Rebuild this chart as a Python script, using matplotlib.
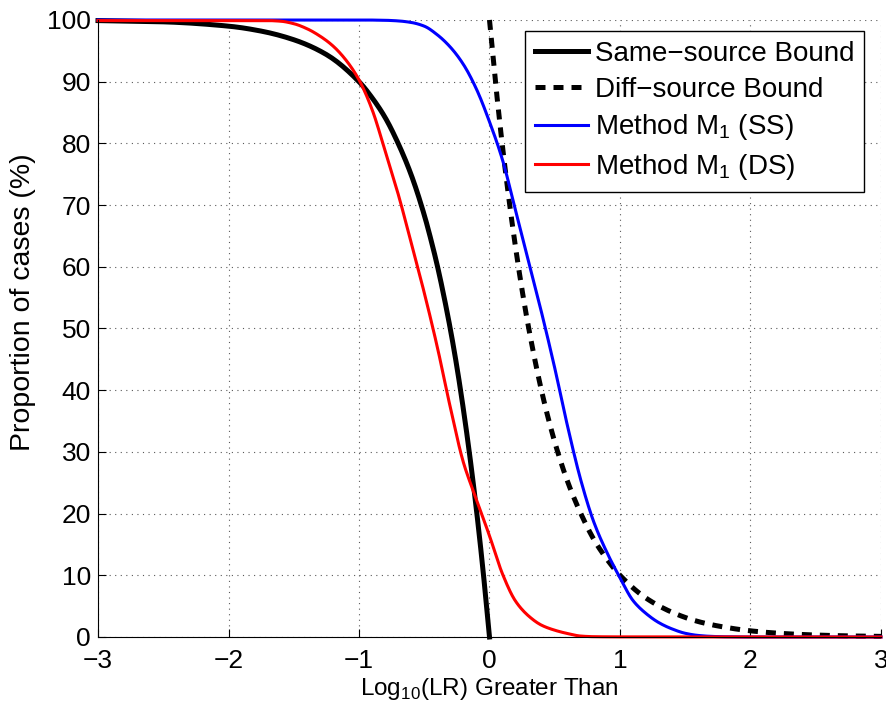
import matplotlib
matplotlib.use("Agg")
import matplotlib.pyplot as plt
import numpy as np

# values
ss_bound_x = [-3, -2.5, -2, -1.75, -1.5, -1.25, -1, -0.9, -0.8, -0.7, -0.6, -0.5,
              -0.45, -0.4, -0.35, -0.3, -0.25, -0.2, -0.15, -0.1, -0.05, 0]
ss_bound_y = [99.9, 99.7, 99.0, 98.2, 96.8, 94.4, 90.0, 87.4, 84.2, 80.0, 74.9, 68.4,
              64.5, 60.2, 55.3, 49.9, 43.8, 36.9, 29.2, 20.6, 10.9, 0]

ds_bound_x = [0, 0.05, 0.1, 0.15, 0.2, 0.25, 0.3, 0.4, 0.5, 0.6, 0.7, 0.8, 0.9, 1.0,
              1.2, 1.4, 1.6, 1.8, 2.0, 2.25, 2.5, 2.75, 3.0]
ds_bound_y = [100, 89.1, 79.4, 70.8, 63.1, 56.2, 50.1, 39.8, 31.6, 25.1, 20.0, 15.8,
              12.6, 10.0, 6.3, 4.0, 2.5, 1.6, 1.0, 0.56, 0.32, 0.18, 0.1]

m1_ss_x = [-3, -1.0, -0.8, -0.7, -0.6, -0.5, -0.4, -0.3, -0.2, -0.1, 0.0, 0.1, 0.2,
           0.3, 0.4, 0.5, 0.6, 0.7, 0.8, 0.9, 1.0, 1.1, 1.2, 1.3, 1.4, 1.5, 1.6,
           1.7, 1.8, 2.0, 3.0]
m1_ss_y = [100, 100, 99.95, 99.85, 99.6, 99.0, 97.6, 95.6, 92.8, 88.8, 83.5, 77.3,
           69.1, 60.8, 52.5, 43.6, 34.0, 25.4, 18.6, 13.7, 9.6, 5.9, 3.8, 2.3, 1.3,
           0.6, 0.25, 0.1, 0.04, 0, 0]

m1_ds_x = [-3, -2, -1.7, -1.6, -1.5, -1.4, -1.3, -1.2, -1.1, -1.0, -0.9, -0.8, -0.7,
           -0.6, -0.5, -0.4, -0.3, -0.2, -0.1, 0.0, 0.1, 0.2, 0.3, 0.4, 0.5, 0.6,
           0.7, 0.8, 1.0, 3.0]
m1_ds_y = [99.9, 99.9, 99.9, 99.8, 99.4, 98.6, 97.4, 95.8, 93.5, 90.3, 85.5, 78.8,
           71.8, 63.9, 55.8, 47.0, 37.2, 28.3, 22.3, 16.4, 10.2, 5.8, 3.4, 1.9, 1.1,
           0.55, 0.15, 0.05, 0.02, 0]

labels = ["Same\u2212source Bound", "Diff\u2212source Bound",
          r"Method M$_{\mathregular{1}}$ (SS)", r"Method M$_{\mathregular{1}}$ (DS)"]


def smooth(x, y, n=12):
    # monotone cubic (pchip) drawing between the read points
    x = np.asarray(x, float)
    y = np.asarray(y, float)
    h = np.diff(x)
    d = np.diff(y) / h
    m = np.zeros_like(y)
    for k in range(1, len(x) - 1):
        if d[k - 1] * d[k] > 0:
            w1 = 2 * h[k] + h[k - 1]
            w2 = h[k] + 2 * h[k - 1]
            m[k] = (w1 + w2) / (w1 / d[k - 1] + w2 / d[k])
    m[0] = d[0]
    m[-1] = d[-1]
    xs, ys = [], []
    for k in range(len(x) - 1):
        t = np.linspace(0, 1, n, endpoint=False)
        h00 = 2 * t**3 - 3 * t**2 + 1
        h10 = t**3 - 2 * t**2 + t
        h01 = -2 * t**3 + 3 * t**2
        h11 = t**3 - t**2
        xs.append(x[k] + t * h[k])
        ys.append(h00 * y[k] + h10 * h[k] * m[k] + h01 * y[k + 1] + h11 * h[k] * m[k + 1])
    xs.append([x[-1]])
    ys.append([y[-1]])
    return np.concatenate(xs), np.concatenate(ys)


plt.rcParams['font.family'] = ['Liberation Sans', 'DejaVu Sans']
plt.rcParams['mathtext.fontset'] = 'custom'
plt.rcParams['mathtext.rm'] = 'Liberation Sans'

fig = plt.figure(figsize=(8.87, 7.01), dpi=100)
ax = fig.add_axes([0.1105, 0.0913, 0.8827, 0.8802])

ax.plot(*smooth(ss_bound_x, ss_bound_y), color='k', lw=3.6, label=labels[0], clip_on=False)
ax.plot(*smooth(ds_bound_x, ds_bound_y), color='k', lw=3.6, ls='--', dashes=(2.0, 1.6),
        label=labels[1], clip_on=False)
ax.plot(*smooth(m1_ss_x, m1_ss_y), color='#0000ff', lw=2.2, label=labels[2], clip_on=False)
ax.plot(*smooth(m1_ds_x, m1_ds_y), color='#ff0000', lw=2.2, label=labels[3], clip_on=False)

ax.set_xlim(-3, 3)
ax.set_ylim(0, 100)
ax.set_xticks(range(-3, 4))
ax.set_yticks(range(0, 101, 10))
ax.set_xticklabels(["\u2212" + str(-v) if v < 0 else str(v) for v in range(-3, 4)])

ax.spines['top'].set_visible(False)
ax.spines['right'].set_visible(False)
ax.tick_params(direction='in', length=6, width=0.8, labelsize=19, pad=5)
ax.tick_params(axis='x', pad=9)
ax.grid(True, linestyle=(0, (1, 4)), color='0.35', linewidth=0.8)

ax.set_xlabel(r"Log$_{\mathregular{10}}$(LR) Greater Than", fontsize=17.5, labelpad=2)
ax.set_ylabel("Proportion of cases (%)", fontsize=20.5)
ax.yaxis.set_label_coords(-0.079, 0.542)

leg = ax.legend(loc='upper right', bbox_to_anchor=(0.978, 0.982), fontsize=20,
                frameon=True, fancybox=False, framealpha=1, edgecolor='k',
                handlelength=1.9, handletextpad=0.25, labelspacing=0.35,
                borderpad=0.35, borderaxespad=0)
leg.get_frame().set_linewidth(1.0)

fig.savefig("out.png", dpi=100)
